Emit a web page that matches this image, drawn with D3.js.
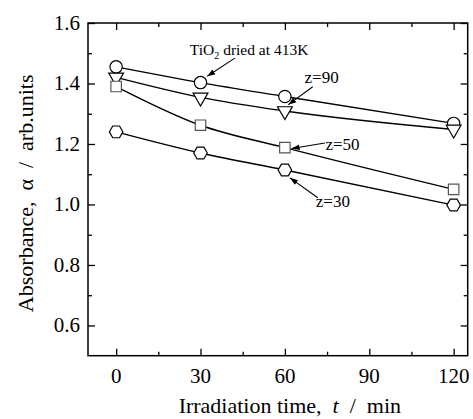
<!DOCTYPE html>
<html>
<head>
<meta charset="utf-8">
<script src="https://cdn.jsdelivr.net/npm/d3@7"></script>
<style>
  html, body { margin: 0; padding: 0; background: #fff; }
  svg { display: block; font-family: "Liberation Serif", "Times New Roman", serif; }
</style>
</head>
<body>
<div id="chart"></div>
<script>
// irradiation time (min) and absorbance readings per sample
const times = [0, 30, 60, 120];
const dried413 = [1.455, 1.403, 1.357, 1.268];
const z90 = [1.420, 1.354, 1.309, 1.248];
const z50 = [1.390, 1.262, 1.188, 1.050];
const z30 = [1.240, 1.170, 1.114, 0.998];

const xMajor = [0, 30, 60, 90, 120];
const xMinor = [15, 45, 75, 105];
const yMajor = [0.6, 0.8, 1.0, 1.2, 1.4, 1.6];
const yMinor = [0.7, 0.9, 1.1, 1.3, 1.5];

// label text, anchor and arrow (tail -> tip) in data units
const notes = [
  { text: "TiO", sub: "2", rest: " dried at 413K", at: [26.2, 1.494], from: [42.2, 1.484], to: [32.4, 1.424] },
  { text: "z=90", at: [67, 1.402], from: [69.9, 1.389], to: [61.2, 1.330] },
  { text: "z=50", at: [74.4, 1.180], from: [74.2, 1.203], to: [62.4, 1.185] },
  { text: "z=30", at: [71, 0.992], from: [71.7, 1.022], to: [61.8, 1.088] }
];

const W = 473, H = 419;
const margin = { top: 23, right: 5.3, bottom: 63.3, left: 88 };

const svg = d3.select("#chart").append("svg")
  .attr("width", W).attr("height", H);

const x = d3.scaleLinear().domain([-10, 125]).range([margin.left, W - margin.right]);
const y = d3.scaleLinear().domain([0.5, 1.6]).range([H - margin.bottom, margin.top]);

const x0 = x.range()[0], x1 = x.range()[1];
const y0 = y.range()[0], y1 = y.range()[1];

// inward ticks on all four sides
const major = 7, minor = 4;
function tickAxis(axis, vals, len) {
  return axis.tickValues(vals).tickSize(len).tickFormat("");
}
const axes = svg.append("g").attr("stroke", "#000");
axes.append("g").attr("transform", `translate(0,${y0})`).call(tickAxis(d3.axisTop(x), xMajor, major));
axes.append("g").attr("transform", `translate(0,${y0})`).call(tickAxis(d3.axisTop(x), xMinor, minor));
axes.append("g").attr("transform", `translate(0,${y1})`).call(tickAxis(d3.axisBottom(x), xMajor, major));
axes.append("g").attr("transform", `translate(0,${y1})`).call(tickAxis(d3.axisBottom(x), xMinor, minor));
axes.append("g").attr("transform", `translate(${x0},0)`).call(tickAxis(d3.axisRight(y), yMajor, major));
axes.append("g").attr("transform", `translate(${x0},0)`).call(tickAxis(d3.axisRight(y), yMinor, minor));
axes.append("g").attr("transform", `translate(${x1},0)`).call(tickAxis(d3.axisLeft(y), yMajor, major));
axes.append("g").attr("transform", `translate(${x1},0)`).call(tickAxis(d3.axisLeft(y), yMinor, minor));
axes.selectAll(".domain").remove();
axes.selectAll(".tick line").attr("stroke", "#000").attr("stroke-width", 1.3);

svg.append("rect")
  .attr("x", x0).attr("y", y1)
  .attr("width", x1 - x0).attr("height", y0 - y1)
  .attr("fill", "none").attr("stroke", "#000").attr("stroke-width", 1.5);

// tick labels
svg.append("g").selectAll("text").data(xMajor).join("text")
  .attr("x", d => x(d)).attr("y", y0 + 27)
  .attr("text-anchor", "middle").attr("font-size", 21)
  .text(d => d);

svg.append("g").selectAll("text").data(yMajor).join("text")
  .attr("x", x0 - 8).attr("y", d => y(d) + 7)
  .attr("text-anchor", "end").attr("font-size", 21)
  .text(d => d.toFixed(1));

// axis titles
const xt = svg.append("text")
  .attr("x", (x0 + x1) / 2 + 12).attr("y", H - 6)
  .attr("text-anchor", "middle").attr("font-size", 22)
  .style("white-space", "pre");
xt.append("tspan").text("Irradiation time,  ");
xt.append("tspan").attr("font-style", "italic").text("t");
xt.append("tspan").text("  /  min");

svg.append("text")
  .attr("transform", `translate(33,${(y0 + y1) / 2 + 4}) rotate(-90)`)
  .attr("text-anchor", "middle").attr("font-size", 22)
  .style("white-space", "pre")
  .text("Absorbance,  \u03b1  /  arb.units");

// series
const line = d3.line()
  .x((d, i) => x(times[i]))
  .y(d => y(d))
  .curve(d3.curveMonotoneX);

const series = [
  { vals: dried413, sym: d3.symbolCircle, size: 120, rot: 0 },
  { vals: z90, sym: d3.symbolTriangle, size: 95, rot: 180 },
  { vals: z50, sym: d3.symbolSquare, size: 110, rot: 0 },
  { vals: z30, sym: null, size: 6.8, rot: 0 }
];

series.forEach(s => {
  svg.append("path")
    .datum(s.vals)
    .attr("fill", "none").attr("stroke", "#000").attr("stroke-width", 1.4)
    .attr("d", line);
});

// hexagon path with flat top and bottom
function hexagon(r) {
  const pts = d3.range(6).map(k => {
    const a = Math.PI / 3 * k;
    return [r * Math.cos(a), r * Math.sin(a)];
  });
  return "M" + pts.join("L") + "Z";
}

series.forEach(s => {
  svg.append("g").selectAll("path").data(s.vals).join("path")
    .attr("transform", (d, i) => `translate(${x(times[i])},${y(d)}) rotate(${s.rot})`)
    .attr("d", s.sym ? d3.symbol(s.sym, s.size)() : hexagon(s.size))
    .attr("fill", "#fff")
    .attr("stroke", s.sym === d3.symbolSquare ? "#555" : "#000")
    .attr("stroke-width", 1.2);
});

// annotations
svg.append("defs").append("marker")
  .attr("id", "head")
  .attr("viewBox", "0 0 10 10")
  .attr("refX", 10).attr("refY", 5)
  .attr("markerWidth", 8).attr("markerHeight", 8)
  .attr("markerUnits", "userSpaceOnUse")
  .attr("orient", "auto")
  .append("path").attr("d", "M0,1.5L10,5L0,8.5Z").attr("fill", "#000");

notes.forEach(n => {
  svg.append("line")
    .attr("x1", x(n.from[0])).attr("y1", y(n.from[1]))
    .attr("x2", x(n.to[0])).attr("y2", y(n.to[1]))
    .attr("stroke", "#000").attr("stroke-width", 1.1)
    .attr("marker-end", "url(#head)");
  const t = svg.append("text")
    .attr("x", x(n.at[0])).attr("y", y(n.at[1]))
    .attr("font-size", n.sub ? 15.5 : 17);
  t.append("tspan").text(n.text);
  if (n.sub) {
    t.append("tspan").attr("font-size", 10).attr("dy", 4).text(n.sub);
    t.append("tspan").attr("dy", -4).text(n.rest);
  }
});
</script>
</body>
</html>
